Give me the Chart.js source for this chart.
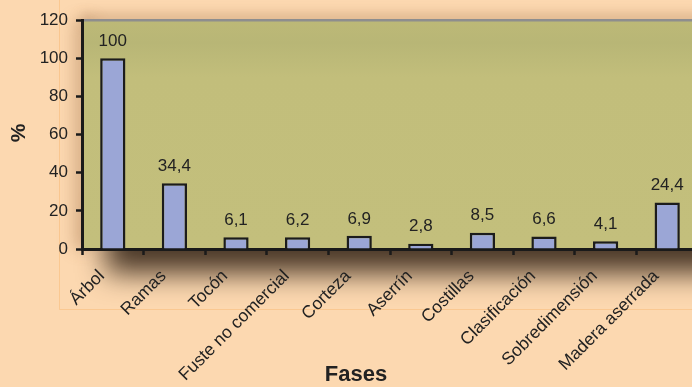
<!DOCTYPE html>
<html>
<head>
<meta charset="utf-8">
<script src="https://cdn.jsdelivr.net/npm/chart.js@4/dist/chart.umd.min.js"></script>
<style>
  html, body { margin: 0; padding: 0; background: #fcd8b0; overflow: hidden; }
  #wrap { position: relative; width: 698px; height: 387px; }
</style>
</head>
<body>
<div id="wrap"><canvas id="Graph"></canvas></div>
<script>
const fases = ['Árbol', 'Ramas', 'Tocón', 'Fuste no comercial', 'Corteza', 'Aserrín',
    'Costillas', 'Clasificación', 'Sobredimensión', 'Madera aserrada'];
const porcentajes = [100, 34.4, 6.1, 6.2, 6.9, 2.8, 8.5, 6.6, 4.1, 24.4];
const yTicks = [0, 20, 40, 60, 80, 100, 120];

const FONT = 'Arial, "Liberation Sans", sans-serif';
const INK = '#222222';

// blurred rectangle drawn only through its shadow
function sombra(ctx, x, y, w, h, color, blur) {
    const far = 5000;
    ctx.save();
    ctx.shadowColor = color;
    ctx.shadowBlur = blur;
    ctx.shadowOffsetX = far;
    ctx.fillStyle = '#000';
    ctx.fillRect(x - far, y, w, h);
    ctx.restore();
}

// background, drop shadow and olive plot area
const fondo = {
    id: 'fondo',
    beforeDraw(chart) {
        const { ctx, chartArea: a, width, height } = chart;
        ctx.save();
        ctx.fillStyle = '#fcd8b0';
        ctx.fillRect(0, 0, width, height);

        // faint frame lines
        ctx.strokeStyle = 'rgba(248, 188, 120, 0.55)';
        ctx.lineWidth = 1;
        ctx.beginPath();
        ctx.moveTo(59.5, 0);
        ctx.lineTo(59.5, 309.5);
        ctx.lineTo(width, 309.5);
        ctx.stroke();
        ctx.restore();

        // soft shadow under and around the plot
        sombra(ctx, a.left + 24, a.bottom - 40, a.right - a.left + 40, 64, 'rgba(74, 56, 40, 1)', 28);
        sombra(ctx, a.left - 8, a.top, 20, a.bottom - a.top, 'rgba(150, 100, 60, 0.35)', 16);
        sombra(ctx, a.left, a.top - 6, a.right - a.left + 30, 10, 'rgba(150, 100, 60, 0.35)', 12);

        ctx.save();
        const g = ctx.createLinearGradient(0, a.top, 0, a.bottom);
        g.addColorStop(0, '#bdb977');
        g.addColorStop(0.1, '#b8b676');
        g.addColorStop(0.25, '#c2be7b');
        g.addColorStop(1, '#c3bf7c');
        ctx.fillStyle = g;
        ctx.fillRect(a.left, a.top, a.right - a.left, a.bottom - a.top);

        ctx.fillStyle = '#8e8e8e';
        ctx.fillRect(a.left, a.top - 1, a.right - a.left, 2.5);
        ctx.restore();
    }
};

// value labels above the bars and axis titles
const etiquetas = {
    id: 'etiquetas',
    afterDatasetsDraw(chart) {
        const { ctx } = chart;
        const meta = chart.getDatasetMeta(0);
        ctx.save();
        ctx.font = '17px ' + FONT;
        ctx.fillStyle = INK;
        ctx.textAlign = 'center';
        ctx.textBaseline = 'middle';
        meta.data.forEach((bar, i) => {
            const txt = String(porcentajes[i]).replace('.', ',');
            ctx.fillText(txt, bar.x, bar.y - 17);
        });

        ctx.font = 'bold 22px ' + FONT;
        ctx.fillText('Fases', 356, 375);

        ctx.translate(19, 133);
        ctx.rotate(-Math.PI / 2);
        ctx.font = 'bold 21px ' + FONT;
        ctx.fillText('%', 0, 0);
        ctx.restore();
    }
};

new Chart(document.getElementById('Graph'), {
    type: 'bar',
    data: {
        labels: fases,
        datasets: [{
            data: porcentajes,
            backgroundColor: '#9ba6d6',
            borderColor: '#1c1c1c',
            borderWidth: 2.5,
            categoryPercentage: 1,
            barPercentage: 0.41
        }]
    },
    options: {
        responsive: true,
        maintainAspectRatio: false,
        animation: false,
        events: [],
        layout: { padding: { top: 20, left: 0, right: 0, bottom: 0 } },
        plugins: {
            legend: { display: false },
            tooltip: { enabled: false }
        },
        scales: {
            x: {
                afterFit(scale) { scale.height = 138; },
                grid: {
                    offset: true,
                    drawOnChartArea: false,
                    tickLength: 6,
                    tickWidth: 2.5,
                    tickColor: '#1a1a1a'
                },
                border: { display: true, color: '#1a1a1a', width: 3 },
                ticks: {
                    autoSkip: false,
                    minRotation: 45,
                    maxRotation: 45,
                    padding: 11,
                    labelOffset: -11,
                    color: INK,
                    font: { family: FONT, size: 17.5 }
                }
            },
            y: {
                min: 0,
                max: 120,
                afterFit(scale) { scale.width = 82; },
                afterBuildTicks(scale) { scale.ticks = yTicks.map(v => ({ value: v })); },
                grid: {
                    drawOnChartArea: false,
                    tickLength: 6,
                    tickWidth: 2.5,
                    tickColor: '#1a1a1a'
                },
                border: { display: true, color: '#1a1a1a', width: 3 },
                ticks: {
                    padding: 8,
                    color: INK,
                    font: { family: FONT, size: 17 }
                }
            }
        }
    },
    plugins: [fondo, etiquetas]
});
</script>
</body>
</html>
